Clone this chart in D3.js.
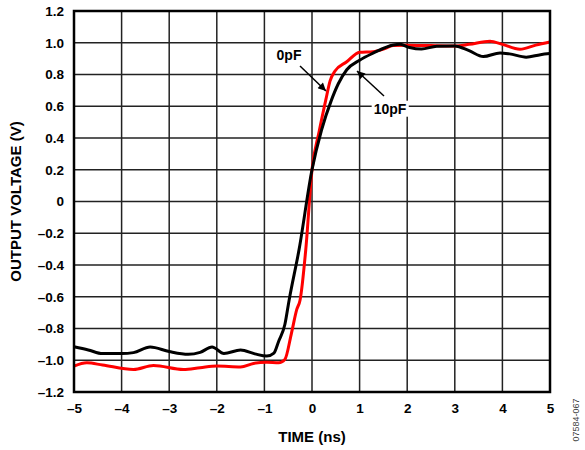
<!DOCTYPE html>
<html>
<head>
<meta charset="utf-8">
<script src="https://cdn.jsdelivr.net/npm/d3@7"></script>
<style>
  html, body { margin: 0; padding: 0; background: #fff; }
  svg { display: block; }
  text { font-family: "Liberation Sans", Arial, sans-serif; }
</style>
</head>
<body>
<svg id="chart" width="585" height="450"></svg>
<script>
// ---- data (time in ns, voltage in V) ----
const xTicks = [-5, -4, -3, -2, -1, 0, 1, 2, 3, 4, 5];
const yTicks = [-1.2, -1.0, -0.8, -0.6, -0.4, -0.2, 0, 0.2, 0.4, 0.6, 0.8, 1.0, 1.2];

const time10pF = [-5, -4.7, -4.4, -4.0, -3.75, -3.4, -3.0, -2.6, -2.35, -2.1, -1.85, -1.5, -1.2, -0.95, -0.8, -0.7, -0.57, -0.48, -0.27, 0.0, 0.2, 0.41, 0.55, 0.73, 1.0, 1.28, 1.71, 1.85, 2.05, 2.3, 2.62, 3.0, 3.3, 3.6, 3.95, 4.15, 4.5, 4.8, 5.0];
const volt10pF = [-0.915, -0.935, -0.958, -0.958, -0.952, -0.917, -0.945, -0.962, -0.950, -0.917, -0.957, -0.936, -0.960, -0.974, -0.955, -0.880, -0.775, -0.620, -0.300, 0.200, 0.450, 0.640, 0.740, 0.830, 0.890, 0.934, 0.986, 0.990, 0.970, 0.960, 0.978, 0.980, 0.950, 0.913, 0.936, 0.930, 0.909, 0.925, 0.932];

const time0pF = [-5, -4.73, -4.4, -3.75, -3.33, -2.7, -2.35, -2.0, -1.5, -1.23, -0.95, -0.7, -0.57, -0.43, -0.32, -0.25, -0.13, 0.0, 0.15, 0.29, 0.38, 0.48, 0.73, 1.0, 1.28, 1.5, 1.7, 2.0, 2.5, 3.0, 3.3, 3.74, 4.0, 4.37, 4.7, 5.0];
const volt0pF = [-1.037, -1.016, -1.030, -1.058, -1.033, -1.058, -1.047, -1.037, -1.043, -1.020, -1.012, -1.016, -0.995, -0.827, -0.680, -0.620, -0.300, 0.200, 0.440, 0.640, 0.760, 0.820, 0.880, 0.940, 0.944, 0.960, 0.982, 0.985, 0.982, 0.980, 0.990, 1.010, 0.990, 0.959, 0.985, 1.005];

const seriesNames = ["0pF", "10pF"];

// ---- layout ----
const svg = d3.select("#chart");
const m = { left: 74, top: 11, right: 35, bottom: 58 };
const W = 585, H = 450;
const x = d3.scaleLinear().domain([-5, 5]).range([m.left, W - m.right]);
const y = d3.scaleLinear().domain([-1.2, 1.2]).range([H - m.bottom, m.top]);

// grid
const grid = svg.append("g");
grid.selectAll(".vg").data(xTicks).join("line")
  .attr("x1", d => x(d)).attr("x2", d => x(d))
  .attr("y1", y(-1.2)).attr("y2", y(1.2))
  .attr("stroke", "#222").attr("stroke-width", 1.5);
grid.selectAll(".hg").data(yTicks).join("line")
  .attr("y1", d => y(d)).attr("y2", d => y(d))
  .attr("x1", x(-5)).attr("x2", x(5))
  .attr("stroke", "#222").attr("stroke-width", 1.5);

// axes (labels only, via d3 axes)
const yAxis = d3.axisLeft(y).tickValues(yTicks).tickSize(0).tickPadding(10)
  .tickFormat(d => (Math.abs(d) < 1e-9 ? "0" : (d < 0 ? "\u2013" : "") + Math.abs(d).toFixed(1)));
const gy = svg.append("g").attr("transform", `translate(${m.left},0)`).call(yAxis);
gy.select(".domain").remove();
gy.selectAll("text").attr("font-size", 13.5).attr("font-weight", "bold").attr("fill", "#000")
  .attr("font-family", "'Liberation Sans', Arial, sans-serif");

const xAxis = d3.axisBottom(x).tickValues(xTicks).tickSize(0).tickPadding(11)
  .tickFormat(d => (d < 0 ? "\u2013" : "") + Math.abs(d));
const gx = svg.append("g").attr("transform", `translate(0,${H - m.bottom})`).call(xAxis);
gx.select(".domain").remove();
gx.selectAll("text").attr("font-size", 13.5).attr("font-weight", "bold").attr("fill", "#000")
  .attr("font-family", "'Liberation Sans', Arial, sans-serif");

// curves
const line = d3.line().x(d => x(d[0])).y(d => y(d[1])).curve(d3.curveMonotoneX);
const d0 = time0pF.map((t, i) => [t, volt0pF[i]]);
const d10 = time10pF.map((t, i) => [t, volt10pF[i]]);
svg.append("path").datum(d0).attr("d", line)
  .attr("fill", "none").attr("stroke", "#ff0000").attr("stroke-width", 3).attr("stroke-linejoin", "round");
svg.append("path").datum(d10).attr("d", line)
  .attr("fill", "none").attr("stroke", "#000").attr("stroke-width", 3).attr("stroke-linejoin", "round");

// frame
svg.append("rect").attr("x", x(-5)).attr("y", y(1.2))
  .attr("width", x(5) - x(-5)).attr("height", y(-1.2) - y(1.2))
  .attr("fill", "none").attr("stroke", "#000").attr("stroke-width", 2.5);

// annotations
const defs = svg.append("defs");
defs.append("marker").attr("id", "ah").attr("viewBox", "0 0 10 10")
  .attr("refX", 10).attr("refY", 5).attr("markerWidth", 10).attr("markerHeight", 8)
  .attr("markerUnits", "userSpaceOnUse").attr("orient", "auto")
  .append("path").attr("d", "M0,0 L10,5 L0,10 Z").attr("fill", "#000");

function annot(label, tx, ty, x1, y1, x2, y2) {
  const t = svg.append("text").attr("x", tx).attr("y", ty).text(label)
    .attr("font-size", 14).attr("font-weight", "bold").attr("text-anchor", "middle")
    .attr("dominant-baseline", "middle");
  const bb = t.node().getBBox();
  svg.insert("rect", () => t.node()).attr("x", bb.x - 2).attr("y", bb.y).attr("width", bb.width + 4).attr("height", bb.height)
    .attr("fill", "#fff");
  svg.append("line").attr("x1", x1).attr("y1", y1).attr("x2", x2).attr("y2", y2)
    .attr("stroke", "#000").attr("stroke-width", 1.5).attr("marker-end", "url(#ah)");
}
annot(seriesNames[0], 289, 56, 300, 66, 326, 91);
annot(seriesNames[1], 390, 110, 384, 96, 357, 71);

// titles
svg.append("text").attr("x", (x(-5) + x(5)) / 2).attr("y", 442).attr("text-anchor", "middle")
  .attr("font-size", 15).attr("font-weight", "bold").text("TIME (ns)");
svg.append("text").attr("transform", `translate(21,${(y(-1.2) + y(1.2)) / 2}) rotate(-90)`)
  .attr("text-anchor", "middle").attr("font-size", 15).attr("font-weight", "bold").text("OUTPUT VOLTAGE (V)");
svg.append("text").attr("transform", `translate(579,420) rotate(-90)`)
  .attr("text-anchor", "middle").attr("font-size", 9).attr("fill", "#444").text("07584-067");
</script>
</body>
</html>
